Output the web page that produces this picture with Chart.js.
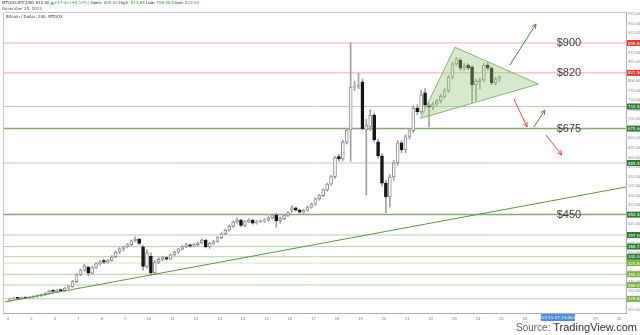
<!DOCTYPE html>
<html>
<head>
<meta charset="utf-8">
<script src="https://cdn.jsdelivr.net/npm/chart.js@4/dist/chart.umd.min.js"></script>
<style>
  html, body { margin: 0; padding: 0; background: #fff; }
</style>
</head>
<body>
<canvas id="btcChart" width="640" height="335"></canvas>
<script>
// MTGOX BTC/USD, 240 minute candles, Nov 4 - Nov 24 2013
const opens = [226,230,232,231,233,232, 234,236,238,241,244,252, 249,254,251,258,262,275,
  293,305,313,297,312,322, 330,326,330,340,352,361, 366,372,382,386,366,315,
  342,298,326,333,338,334, 345,352,360,367,371,368, 372,376,384,366,375,380,
  390,400,410,420,431,436, 422,432,436,428,432,433, 436,442,450,434,440,448,
  462,468,462,457,462,470, 478,492,500,515,530,550, 602,596,640,672,784,786,
  798,672,680,711,641,604, 533,497,549,586,638,620, 654,670,729,719,769,735,
  732,740,748,760,775,810, 845,855,834,842,837,790, 800,803,842,834,795,805];
const highs = [232,233,234,235,235,236, 238,240,243,246,252,254, 255,256,260,265,278,296,
  308,320,316,314,325,330, 333,333,343,355,364,368, 375,384,392,388,370,358,
  350,330,338,342,341,348, 355,362,370,375,374,375, 379,387,386,378,383,393,
  403,413,423,434,442,439, 435,440,438,435,436,440, 445,452,453,443,451,458,
  474,470,465,465,473,481, 495,503,518,533,553,603, 608,645,676,900,800,821,
  805,700,725,716,648,610, 540,555,592,645,644,660, 676,735,738,775,780,742,
  745,752,765,780,815,850, 862,860,846,846,840,805, 808,846,848,838,810,813.65];
const lows = [224,228,229,229,230,230, 232,234,236,239,242,247, 247,249,249,256,260,272,
  290,302,290,295,309,318, 322,323,328,337,348,355, 363,369,379,372,305,310,
  292,294,322,330,331,332, 342,349,357,364,365,366, 369,374,363,362,372,378,
  387,397,407,417,428,418, 419,429,425,425,429,430, 433,439,418,428,437,445,
  456,459,454,454,459,467, 475,488,497,512,527,545, 590,592,635,590,775,780,
  672,502,670,640,598,525, 455,470,540,580,612,612, 648,665,712,714,730,680,
  725,735,743,755,770,805, 840,828,828,830,745,748, 780,798,828,790,790,798.96];
const closes = [230,232,231,233,232,234, 236,238,241,244,250,249, 253,251,258,262,275,293,
  305,316,297,312,322,326, 326,330,340,352,361,366, 372,382,386,375,315,350,
  298,326,333,338,334,345, 352,360,367,371,368,372, 376,384,366,375,380,390,
  400,410,420,431,436,422, 432,436,428,432,433,436, 442,448,434,440,448,455,
  468,462,457,462,470,478, 492,500,515,530,550,600, 596,640,672,784,786,790,
  675,685,711,646,604,533, 497,549,586,638,620,654, 670,729,719,764,737,732,
  740,748,760,775,810,845, 858,834,840,834,790,800, 803,842,834,795,805,812];

// horizontal support / resistance levels drawn on the chart
const levels = [899.65, 821.50, 733.50, 675.60, 585.50, 450.46, 397.00, 366.71, 340.00, 323.50, 294.20, 266.05, 229.84];
const levelLabels = { 899.65: '$900', 821.50: '$820', 675.60: '$675', 450.46: '$450' };
const tickDays = [4,5,6,7,8,9,10,11,12,13,14,15,16,17,18,19,20,21,22,23,24,25,26,29,30];

// [day, price] pairs
const trendLine = [[3.87, 221.6], [30.3, 522.7]];
const triangle = [[21.56, 702.5], [23.02, 888.4], [26.57, 792.3], [21.56, 702.5]];
const arrows = [
  [[25.36, 842.0], [26.47, 949.4]],
  [[25.53, 753.0], [26.09, 679.7]],
  [[26.38, 679.7], [26.85, 724.2]],
  [[26.89, 658.8], [27.57, 606.4]]
];

const X_MIN = 3.79, X_MAX = 30.3;
const levelStyle = [
  ['#f5a9a9', '#e53935'], ['#f5a9a9', '#e53935'], ['#b5d0a6', '#2e7d32'], ['#86a876', '#2e7d32'],
  ['#b5d0a6', '#2e7d32'], ['#86a876', '#2e7d32'], ['#b5d0a6', '#2e7d32'], ['#b5d0a6', '#2e7d32'],
  ['#b5d0a6', '#2e7d32'], ['#d3e4c8', '#7cb342'], ['#b5d0a6', '#7cb342'], ['#b5d0a6', '#7cb342'],
  ['#b5d0a6', '#7cb342']
];
const arrowColors = ['#4d8a3f', '#f04848', '#4d8a3f', '#f04848'];

const times = opens.map((_, i) => 4 + (i + 0.5) / 6);
const isUp = opens.map((o, i) => closes[i] >= o);
const pts = arr => arr.map(p => ({ x: p[0], y: p[1] }));

const datasets = [];
datasets.push({
  type: 'bar', label: 'body', order: 2, grouped: false,
  data: times.map((t, i) => ({ x: t, y: [opens[i], closes[i]] })),
  backgroundColor: isUp.map(u => u ? '#ffffff' : '#151515'),
  borderColor: isUp.map(u => u ? '#8c8c8c' : '#151515'),
  borderWidth: 1, borderSkipped: false, barThickness: 3, minBarLength: 1
});
datasets.push({
  type: 'bar', label: 'wick', order: 3, grouped: false,
  data: times.map((t, i) => ({ x: t, y: [lows[i], highs[i]] })),
  backgroundColor: '#a0a0a0', barThickness: 1
});
levels.forEach((lv, k) => {
  datasets.push({
    type: 'line', order: 4, data: [{ x: X_MIN, y: lv }, { x: X_MAX, y: lv }],
    borderColor: levelStyle[k][0], borderWidth: (k === 3 || k === 5) ? 1.5 : 1, pointRadius: 0
  });
});
datasets.push({
  type: 'line', order: 1, data: pts(trendLine),
  borderColor: '#5a9440', borderWidth: 1, pointRadius: 0
});
datasets.push({
  type: 'line', order: 0, data: pts(triangle), fill: 'shape',
  backgroundColor: 'rgba(150, 200, 120, 0.38)', borderColor: '#86b270',
  borderWidth: 1, pointRadius: 0, tension: 0
});
arrows.forEach((a, k) => {
  datasets.push({
    type: 'line', order: 0, data: pts(a),
    borderColor: arrowColors[k], borderWidth: 1, pointRadius: 0
  });
});

const overlay = {
  id: 'overlay',
  afterDraw(chart) {
    const { ctx, chartArea: area, scales: { x, y } } = chart;
    ctx.save();
    // frame top / left
    ctx.strokeStyle = '#c8c8c8';
    ctx.lineWidth = 1;
    ctx.beginPath();
    ctx.moveTo(area.left + 0.5, area.bottom);
    ctx.lineTo(area.left + 0.5, area.top + 0.5);
    ctx.lineTo(area.right, area.top + 0.5);
    ctx.stroke();

    // arrow heads
    arrows.forEach((a, k) => {
      const x0 = x.getPixelForValue(a[0][0]), y0 = y.getPixelForValue(a[0][1]);
      const x1 = x.getPixelForValue(a[1][0]), y1 = y.getPixelForValue(a[1][1]);
      const ang = Math.atan2(y1 - y0, x1 - x0);
      ctx.strokeStyle = arrowColors[k];
      ctx.beginPath();
      ctx.moveTo(x1 - 5 * Math.cos(ang - 0.45), y1 - 5 * Math.sin(ang - 0.45));
      ctx.lineTo(x1, y1);
      ctx.lineTo(x1 - 5 * Math.cos(ang + 0.45), y1 - 5 * Math.sin(ang + 0.45));
      ctx.stroke();
    });

    // big price labels
    ctx.fillStyle = '#3a3a3a';
    ctx.font = '11px "Liberation Sans", Arial, sans-serif';
    ctx.textAlign = 'center';
    ctx.textBaseline = 'middle';
    levels.forEach(lv => {
      if (levelLabels[lv]) ctx.fillText(levelLabels[lv], x.getPixelForValue(27.87), y.getPixelForValue(lv));
    });

    // price tags on the right axis
    ctx.font = '4px "DejaVu Sans", sans-serif';
    levels.forEach((lv, k) => {
      const py = y.getPixelForValue(lv);
      ctx.fillStyle = levelStyle[k][1];
      ctx.fillRect(area.right + 1, py - 3, 13, 6);
      ctx.fillStyle = '#ffffff';
      ctx.textAlign = 'left';
      ctx.fillText(lv.toFixed(2), area.right + 2, py + 0.5);
    });

    // time tag
    const tx = x.getPixelForValue(27.4);
    ctx.fillStyle = '#4a8fd8';
    ctx.fillRect(tx - 17, area.bottom + 1, 34, 7);
    ctx.fillStyle = '#ffffff';
    ctx.textAlign = 'center';
    ctx.fillText('2013-11-27 11:00:00', tx, area.bottom + 4.8);

    // header
    ctx.textAlign = 'left';
    ctx.font = '4px "DejaVu Sans", sans-serif';
    let cx = 2;
    const parts = [
      ['MTGOX:BTCUSD ', '#333'], ['812.00 ', '#333'], ['\u25B2+17.00 (+2.14%) ', '#3a9a3a'],
      ['Open: ', '#333'], ['805.00 ', '#3a9a3a'], ['High: ', '#333'], ['813.65 ', '#3a9a3a'],
      ['Low: ', '#333'], ['798.96 ', '#3a9a3a'], ['Close: ', '#333'], ['812.00', '#3a9a3a']
    ];
    parts.forEach(([s, c]) => {
      ctx.fillStyle = c;
      ctx.fillText(s, cx, 3);
      cx += ctx.measureText(s).width;
    });
    ctx.fillStyle = '#555';
    ctx.fillText('November 25, 2013', 2, 9);
    ctx.fillStyle = '#333';
    ctx.fillText('Bitcoin / Dollar, 240, MTGOX', area.left + 3, area.top + 5);

    // source
    ctx.textAlign = 'right';
    ctx.textBaseline = 'alphabetic';
    ctx.font = '11px "Liberation Sans", Arial, sans-serif';
    ctx.fillStyle = '#333';
    const brand = 'TradingView.com';
    ctx.fillText(brand, 637, 331);
    const bw = ctx.measureText(brand).width;
    ctx.font = '10px "Liberation Sans", Arial, sans-serif';
    ctx.fillStyle = '#666';
    ctx.fillText('Source: ', 637 - bw, 331);
    ctx.restore();
  }
};

new Chart(document.getElementById('btcChart').getContext('2d'), {
  type: 'bar',
  data: { datasets },
  options: {
    responsive: false,
    animation: false,
    layout: { padding: { left: 3, top: 12, right: 0, bottom: 0 } },
    plugins: { legend: { display: false }, tooltip: { enabled: false } },
    scales: {
      x: {
        type: 'linear', min: X_MIN, max: X_MAX, offset: false,
        grid: { display: false, drawTicks: false },
        border: { color: '#b0b0b0' },
        ticks: {
          stepSize: 1, autoSkip: false, maxRotation: 0, includeBounds: false, padding: 3,
          font: { size: 4 }, color: '#777',
          callback: v => tickDays.includes(v) ? String(v) : ''
        },
        afterFit: s => { s.height = 22; }
      },
      y: {
        type: 'linear', position: 'right', min: 192.8, max: 980.8,
        grid: { display: false, drawTicks: false },
        border: { color: '#b0b0b0' },
        ticks: {
          stepSize: 25, autoSkip: false, includeBounds: false, padding: 2,
          font: { size: 4 }, color: '#888',
          callback: v => v % 25 === 0 ? v.toFixed(2) : ''
        },
        afterFit: s => { s.width = 14; }
      }
    }
  },
  plugins: [overlay]
});
</script>
</body>
</html>
